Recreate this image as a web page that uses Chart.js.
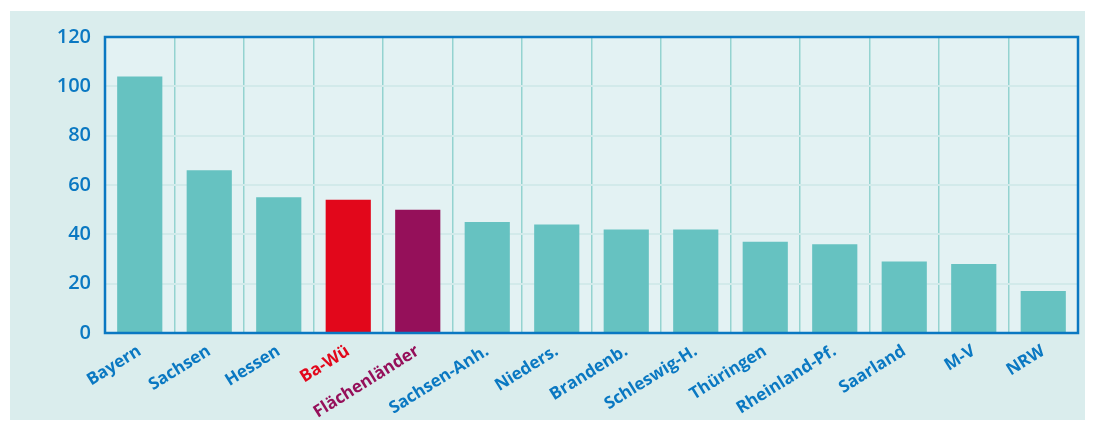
<!DOCTYPE html>
<html>
<head>
<meta charset="utf-8">
<script src="https://cdn.jsdelivr.net/npm/chart.js@4"></script>
<style>
  body { margin: 0; background: #ffffff; }
  #panel { position: absolute; left: 10px; top: 11px; width: 1075px; height: 409px; background: #daeded; }
</style>
</head>
<body>
<div id="panel"><canvas id="barChart"></canvas></div>
<script>
var laender = ['Bayern', 'Sachsen', 'Hessen', 'Ba-Wü', 'Flächenländer', 'Sachsen-Anh.', 'Nieders.',
    'Brandenb.', 'Schleswig-H.', 'Thüringen', 'Rheinland-Pf.', 'Saarland', 'M-V', 'NRW'];
var werte = [104, 66, 55, 54, 50, 45, 44, 42, 42, 37, 36, 29, 28, 17];
var yTicks = [0, 20, 40, 60, 80, 100, 120];

var blau = '#0a78c2';
var tuerkis = '#66c2c1';
function barColor(name) {
    if (name == 'Ba-Wü') return '#e2071b';
    if (name == 'Flächenländer') return '#95105a';
    return tuerkis;
}
function labelColor(name) {
    if (name == 'Ba-Wü') return '#e2071b';
    if (name == 'Flächenländer') return '#95105a';
    return blau;
}

var plotDeko = {
    id: 'plotDeko',
    beforeDraw: function (chart) {
        var a = chart.chartArea, ctx = chart.ctx;
        ctx.save();
        ctx.fillStyle = '#e3f2f3';
        ctx.fillRect(a.left, a.top, a.right - a.left, a.bottom - a.top);
        ctx.restore();
    },
    afterDraw: function (chart) {
        var a = chart.chartArea, ctx = chart.ctx;
        ctx.save();
        ctx.strokeStyle = blau;
        ctx.lineWidth = 2.5;
        ctx.strokeRect(a.left, a.top, a.right - a.left, a.bottom - a.top);
        ctx.restore();
    }
};

var chart = new Chart(document.querySelector('#barChart'), {
    type: 'bar',
    data: {
        labels: laender,
        datasets: [{
            data: werte,
            backgroundColor: laender.map(barColor),
            barPercentage: 0.65,
            categoryPercentage: 1
        }]
    },
    plugins: [plotDeko],
    options: {
        responsive: true,
        maintainAspectRatio: false,
        animation: false,
        layout: { padding: { top: 26, right: 7, left: 0, bottom: 0 } },
        plugins: { legend: { display: false }, tooltip: { enabled: false } },
        scales: {
            x: {
                grid: { color: '#94d3d0', lineWidth: 1.5, drawTicks: false },
                border: { display: false },
                ticks: {
                    minRotation: 32, maxRotation: 32, padding: 8,
                    color: function (c) { return labelColor(laender[c.index]); },
                    font: { family: 'Open Sans', size: 17, weight: 'bold' }
                },
                afterFit: function (scale) { scale.height = 87; }
            },
            y: {
                min: 0, max: 120,
                afterBuildTicks: function (scale) {
                    scale.ticks = yTicks.map(function (v) { return { value: v }; });
                },
                grid: { color: '#d2eaea', lineWidth: 2, drawTicks: false },
                border: { display: false },
                ticks: {
                    padding: 14, color: blau,
                    font: { family: 'Open Sans', size: 20, weight: '600' }
                },
                afterFit: function (scale) { scale.width = 95; }
            }
        }
    }
});
</script>
</body>
</html>
